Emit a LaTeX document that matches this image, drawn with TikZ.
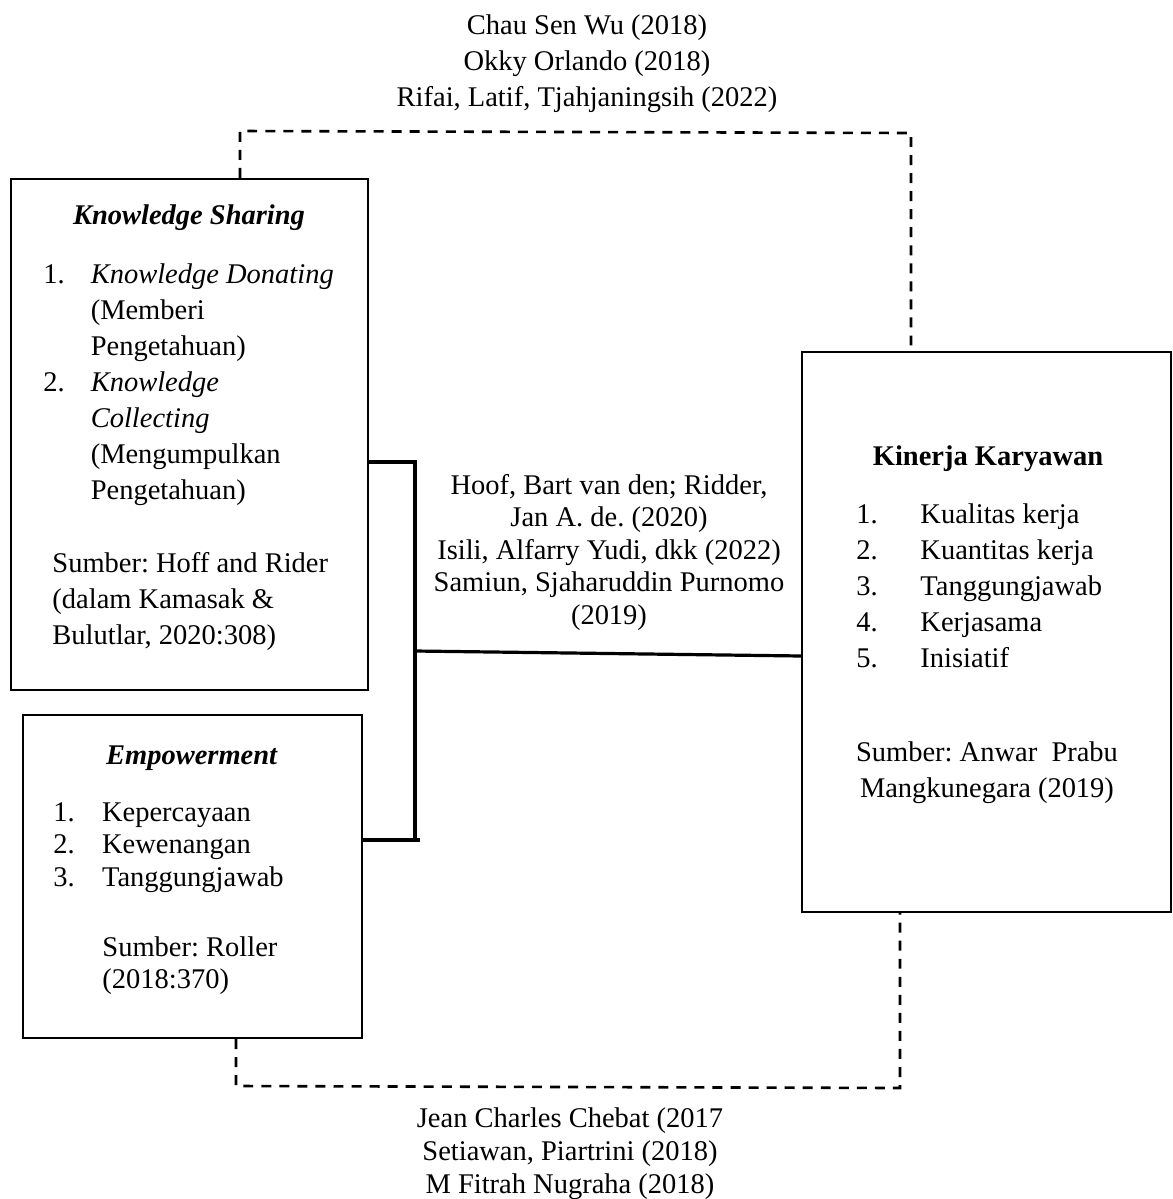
\documentclass[tikz,border=0pt]{standalone}
\usepackage{fontspec}
\setmainfont{Liberation Serif}
\usetikzlibrary{fit}
\frenchspacing

\begin{document}
\begin{tikzpicture}[
        x=0.0148cm, y=-0.0148cm,
        % Gaya kotak, teks dan garis
        every node/.style={inner sep=0pt, font=\fontsize{12}{15.2}\selectfont},
        tight/.style={font=\fontsize{12}{13.7}\selectfont},
        varbox/.style={draw, line width=0.95pt, inner sep=0pt},
        txt/.style={anchor=base west},
        ctxt/.style={anchor=base},
        link/.style={line width=1.35pt},
        dashlink/.style={line width=1.1pt, dash pattern=on 4.2pt off 3.4pt}
    ]
        \useasboundingbox (0,0) rectangle (1173,1199);

        % Rujukan atas
        \node[ctxt] (reftop) at (587,34) {\begin{tabular}[t]{@{}c@{}}Chau Sen Wu (2018)\\ Okky Orlando (2018)\\ Rifai, Latif, Tjahjaningsih (2022)\end{tabular}};

        % Kotak variabel
        \coordinate (ksa) at (11,179);   \coordinate (ksb) at (368,690);
        \coordinate (empa) at (23,715);  \coordinate (empb) at (362,1038);
        \coordinate (kka) at (802,352);  \coordinate (kkb) at (1171,912);
        \node[varbox, fit=(ksa) (ksb)] (ks) {};
        \node[varbox, fit=(empa) (empb)] (emp) {};
        \node[varbox, fit=(kka) (kkb)] (kk) {};

        % Isi Knowledge Sharing
        \node[ctxt] (kstitle) at (189,224) {\textbf{\textit{Knowledge Sharing}}};
        \node[txt] (ksitem) at (43,283) {\begin{tabular}[t]{@{}p{0.7cm}@{}l@{}}1. & \textit{Knowledge Donating}\\ & (Memberi\\ & Pengetahuan)\\ 2. & \textit{Knowledge}\\ & \textit{Collecting}\\ & (Mengumpulkan\\ & Pengetahuan)\end{tabular}};
        \node[txt] (kssrc) at (52,572) {\begin{tabular}[t]{@{}l@{}}Sumber: Hoff and Rider\\ (dalam Kamasak \&\\ Bulutlar, 2020:308)\end{tabular}};

        % Isi Empowerment
        \node[ctxt] (emptitle) at (192,764) {\textbf{\textit{Empowerment}}};
        \node[txt, tight] (empitem) at (53,821) {\begin{tabular}[t]{@{}p{0.72cm}@{}l@{}}1. & Kepercayaan\\ 2. & Kewenangan\\ 3. & Tanggungjawab\end{tabular}};
        \node[txt, tight] (empsrc) at (102,956) {\begin{tabular}[t]{@{}l@{}}Sumber: Roller\\ (2018:370)\end{tabular}};

        % Isi Kinerja Karyawan
        \node[ctxt] (kktitle) at (988,465) {\textbf{Kinerja Karyawan}};
        \node[txt] (kkitem) at (856,523) {\begin{tabular}[t]{@{}p{0.947cm}@{}l@{}}1. & Kualitas kerja\\ 2. & Kuantitas kerja\\ 3. & Tanggungjawab\\ 4. & Kerjasama\\ 5. & Inisiatif\end{tabular}};
        \node[ctxt] (kksrc) at (987,761) {\begin{tabular}[t]{@{}c@{}}Sumber: Anwar\ \ Prabu\\ Mangkunegara (2019)\end{tabular}};

        % Rujukan tengah dan bawah
        \node[ctxt, tight] (refmid) at (609,494) {\begin{tabular}[t]{@{}c@{}}Hoof, Bart van den; Ridder,\\ Jan A. de. (2020)\\ Isili, Alfarry Yudi, dkk (2022)\\ Samiun, Sjaharuddin Purnomo\\ (2019)\end{tabular}};
        \node[ctxt, font=\fontsize{12}{13.9}\selectfont] (refbot) at (570,1127) {\begin{tabular}[t]{@{}c@{}}Jean Charles Chebat (2017\\ Setiawan, Piartrini (2018)\\ M Fitrah Nugraha (2018)\end{tabular}};

        % Titik bantu garis
        \coordinate (bustop) at (415,462);
        \coordinate (busmid) at (415,651);
        \coordinate (busbot) at (415,840);
        \coordinate (kkin) at (802,656);
        \coordinate (topl) at (240,131);
        \coordinate (topr) at (911,133);
        \coordinate (botl) at (236,1086);
        \coordinate (botr) at (900,1088);

        % Garis hubungan
        \draw[link] (ks.east |- bustop) -- (bustop) -- (busbot);
        \draw[link] (emp.east |- busbot) -- ([xshift=0.07cm]busbot);
        \draw[link] (busmid) -- (kkin);
        \draw[dashlink] (ks.north -| topl) -- (topl) -- (topr) -- (kk.north -| topr);
        \draw[dashlink] (emp.south -| botl) -- (botl) -- (botr) -- (kk.south -| botr);
    \end{tikzpicture}
\end{document}
